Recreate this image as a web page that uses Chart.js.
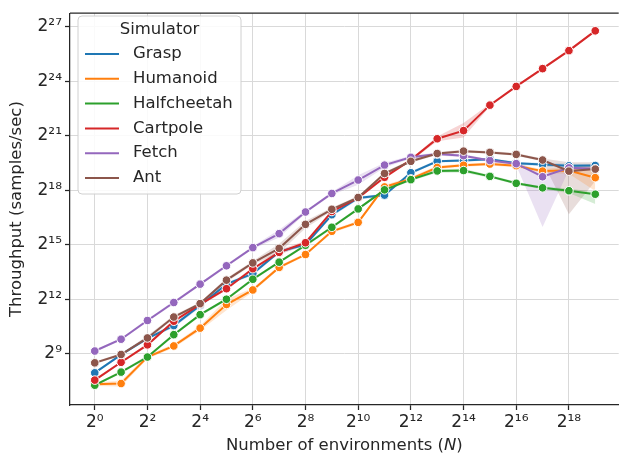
<!DOCTYPE html>
<html>
<head>
<meta charset="utf-8">
<script src="https://cdn.jsdelivr.net/npm/chart.js@4.4.0/dist/chart.umd.min.js"></script>
<style>
  html, body { margin: 0; padding: 0; background: #fff; }
  #wrap { width: 624px; height: 457px; }
</style>
</head>
<body>
<div id="wrap"><canvas id="myChart" width="624" height="457"></canvas></div>
<script>
// x = log2(number of environments), y = log2(throughput)
const envPow = [0, 1, 2, 3, 4, 5, 6, 7, 8, 9, 10, 11, 12, 13, 14, 15, 16, 17, 18, 19];
const xTicks = [0, 2, 4, 6, 8, 10, 12, 14, 16, 18];
const yTicks = [9, 12, 15, 18, 21, 24, 27];

const simulators = ["Grasp", "Humanoid", "Halfcheetah", "Cartpole", "Fetch", "Ant"];
const colors = ["#1f77b4", "#ff7f0e", "#2ca02c", "#d62728", "#9467bd", "#8c564b"];

const grasp = [7.95, 8.95, 9.85, 10.55, 11.66, 12.83, 13.41, 14.62, 15.0, 16.65, 17.57, 17.73, 18.96, 19.59, 19.63, 19.70, 19.48, 19.41, 19.34, 19.36];
const humanoid = [7.32, 7.36, 8.82, 9.43, 10.41, 11.71, 12.51, 13.75, 14.46, 15.74, 16.23, 18.18, 18.62, 19.25, 19.37, 19.44, 19.35, 19.05, 19.08, 18.69];
const halfcheetah = [7.27, 7.99, 8.82, 10.05, 11.15, 12.00, 13.10, 14.04, 14.97, 15.96, 16.97, 18.02, 18.58, 19.06, 19.08, 18.76, 18.38, 18.13, 17.97, 17.78];
const cartpole = [7.55, 8.53, 9.49, 10.79, 11.72, 12.58, 13.68, 14.58, 15.11, 16.83, 17.58, 18.71, 19.67, 20.83, 21.28, 22.68, 23.71, 24.69, 25.68, 26.77];
const fetch_ = [9.15, 9.80, 10.83, 11.82, 12.83, 13.84, 14.84, 15.61, 16.80, 17.82, 18.56, 19.38, 19.81, 19.99, 19.90, 19.63, 19.46, 18.74, 19.23, 19.18];
const ant = [8.50, 8.96, 9.87, 11.02, 11.76, 13.05, 14.00, 14.80, 16.12, 16.95, 17.60, 18.92, 19.59, 20.02, 20.15, 20.08, 19.97, 19.66, 19.05, 19.16];

// confidence bands (low / high)
const graspLo = [7.88, 8.88, 9.77, 10.45, 11.55, 12.74, 13.32, 14.52, 14.92, 16.55, 17.48, 17.65, 18.88, 19.52, 19.56, 19.63, 19.40, 19.32, 19.22, 19.28];
const graspHi = [8.02, 9.02, 9.93, 10.65, 11.77, 12.92, 13.50, 14.72, 15.08, 16.75, 17.66, 17.81, 19.04, 19.66, 19.70, 19.77, 19.56, 19.50, 19.46, 19.44];
const humanoidLo = [7.22, 7.20, 8.72, 9.33, 10.28, 11.40, 12.40, 13.66, 14.38, 15.65, 16.14, 18.08, 18.52, 19.16, 19.29, 19.36, 19.26, 18.95, 18.90, 17.95];
const humanoidHi = [7.42, 7.52, 8.92, 9.53, 10.54, 12.00, 12.62, 13.84, 14.54, 15.83, 16.32, 18.28, 18.72, 19.34, 19.45, 19.52, 19.44, 19.15, 19.30, 19.45];
const halfcheetahLo = [7.20, 7.92, 8.74, 9.97, 11.07, 11.92, 13.02, 13.96, 14.89, 15.88, 16.89, 17.94, 18.50, 18.96, 18.98, 18.68, 18.30, 18.05, 17.85, 17.24];
const halfcheetahHi = [7.34, 8.06, 8.90, 10.13, 11.23, 12.08, 13.18, 14.12, 15.05, 16.04, 17.05, 18.10, 18.66, 19.16, 19.18, 18.84, 18.46, 18.21, 18.09, 17.90];
const cartpoleLo = [7.48, 8.46, 9.41, 10.71, 11.64, 12.50, 13.60, 14.45, 15.00, 16.75, 17.50, 18.63, 19.59, 20.70, 20.90, 22.60, 23.64, 24.62, 25.61, 26.70];
const cartpoleHi = [7.62, 8.60, 9.57, 10.87, 11.80, 12.66, 13.76, 14.71, 15.22, 16.91, 17.66, 18.79, 19.75, 20.96, 21.70, 22.76, 23.78, 24.76, 25.75, 26.84];
const fetchLo = [9.08, 9.73, 10.75, 11.74, 12.75, 13.76, 14.76, 15.40, 16.72, 17.74, 18.30, 19.25, 19.73, 19.91, 19.82, 19.55, 19.36, 15.98, 19.12, 19.10];
const fetchHi = [9.22, 9.87, 10.91, 11.90, 12.91, 13.92, 14.92, 15.82, 16.88, 17.90, 18.82, 19.51, 19.89, 20.07, 19.98, 19.71, 19.56, 18.95, 19.34, 19.26];
const antLo = [8.43, 8.89, 9.75, 10.92, 11.68, 12.95, 13.90, 14.55, 15.90, 16.85, 17.52, 18.84, 19.51, 19.94, 20.07, 20.00, 19.89, 19.58, 16.68, 18.50];
const antHi = [8.57, 9.03, 9.99, 11.12, 11.84, 13.15, 14.10, 15.05, 16.30, 17.05, 17.68, 19.00, 19.67, 20.10, 20.23, 20.16, 20.05, 19.74, 19.54, 19.54];

const series = [grasp, humanoid, halfcheetah, cartpole, fetch_, ant];
const lows = [graspLo, humanoidLo, halfcheetahLo, cartpoleLo, fetchLo, antLo];
const highs = [graspHi, humanoidHi, halfcheetahHi, cartpoleHi, fetchHi, antHi];

const FONT = "DejaVu Sans";
const INK = "#262626";
const sup = { "0": "⁰", "1": "¹", "2": "²", "3": "³", "4": "⁴", "5": "⁵", "6": "⁶", "7": "⁷", "8": "⁸", "9": "⁹" };
function pow2Label(v) {
    return "2" + String(v).split("").map(d => sup[d]).join("");
}
function toPoints(arr) {
    return arr.map((y, i) => ({ x: envPow[i], y }));
}
function alpha(hex, a) {
    const n = parseInt(hex.slice(1), 16);
    return `rgba(${(n >> 16) & 255}, ${(n >> 8) & 255}, ${n & 255}, ${a})`;
}

const datasets = [];
simulators.forEach((name, i) => {
    datasets.push({
        label: name + " hi",
        data: toPoints(highs[i]),
        borderWidth: 0,
        pointRadius: 0,
        backgroundColor: alpha(colors[i], 0.2),
        fill: "+1",
        order: 20 + i
    });
    datasets.push({
        label: name + " lo",
        data: toPoints(lows[i]),
        borderWidth: 0,
        pointRadius: 0,
        fill: false,
        order: 20 + i
    });
});
simulators.forEach((name, i) => {
    datasets.push({
        label: name,
        data: toPoints(series[i]),
        borderColor: colors[i],
        backgroundColor: colors[i],
        borderWidth: 2,
        pointRadius: 4.3,
        pointBorderColor: "#ffffff",
        pointBorderWidth: 1,
        pointBackgroundColor: colors[i],
        fill: false,
        order: 10 - i
    });
});

const framePlugin = {
    id: "framePlugin",
    afterDraw(chart) {
        const { ctx, chartArea: a } = chart;
        ctx.save();
        // top spine
        ctx.strokeStyle = INK;
        ctx.lineWidth = 1.25;
        ctx.beginPath();
        ctx.moveTo(a.left, a.top);
        ctx.lineTo(a.right, a.top);
        ctx.stroke();

        // x axis title with italic N
        ctx.fillStyle = INK;
        ctx.textBaseline = "middle";
        const f1 = "16.5px '" + FONT + "'";
        const f2 = "italic 16.5px '" + FONT + "'";
        const p1 = "Number of environments (", p2 = "N", p3 = ")";
        ctx.font = f1;
        const w1 = ctx.measureText(p1).width, w3 = ctx.measureText(p3).width;
        ctx.font = f2;
        const w2 = ctx.measureText(p2).width;
        let x = (a.left + a.right) / 2 - (w1 + w2 + w3) / 2;
        const y = 446;
        ctx.font = f1; ctx.fillText(p1, x, y); x += w1;
        ctx.font = f2; ctx.fillText(p2, x, y); x += w2;
        ctx.font = f1; ctx.fillText(p3, x, y);

        // legend
        const bx = 78, by = 16, bw = 163, bh = 178;
        ctx.beginPath();
        ctx.roundRect(bx, by, bw, bh, 4);
        ctx.fillStyle = "rgba(255,255,255,0.85)";
        ctx.fill();
        ctx.strokeStyle = "#d0d0d0";
        ctx.lineWidth = 1;
        ctx.stroke();
        ctx.fillStyle = INK;
        ctx.font = f1;
        ctx.textAlign = "center";
        ctx.fillText("Simulator", bx + bw / 2, 30);
        ctx.textAlign = "left";
        simulators.forEach((name, i) => {
            const ly = 54 + i * 24.8;
            ctx.strokeStyle = colors[i];
            ctx.lineWidth = 2;
            ctx.beginPath();
            ctx.moveTo(85, ly);
            ctx.lineTo(119, ly);
            ctx.stroke();
            ctx.fillStyle = INK;
            ctx.fillText(name, 133, ly);
        });
        ctx.restore();
    }
};

new Chart(document.getElementById("myChart"), {
    type: "line",
    data: { datasets },
    plugins: [framePlugin],
    options: {
        responsive: false,
        animation: false,
        layout: { padding: { top: 7, right: 0, left: 0, bottom: 0 } },
        plugins: {
            legend: { display: false },
            tooltip: { enabled: false }
        },
        scales: {
            x: {
                type: "linear",
                min: -0.94,
                max: 19.89,
                afterFit: (scale) => { scale.height = 52; },
                afterBuildTicks: (scale) => { scale.ticks = xTicks.map(v => ({ value: v })); },
                ticks: {
                    callback: (v) => pow2Label(v),
                    color: INK,
                    font: { family: FONT, size: 17 },
                    padding: 2,
                    maxRotation: 0,
                    autoSkip: false
                },
                grid: { color: "#d9d9d9", lineWidth: 1, tickColor: INK, tickLength: 5, tickWidth: 1.25 },
                border: { display: true, color: INK, width: 1.25 }
            },
            y: {
                type: "linear",
                min: 6.18,
                max: 27.74,
                afterFit: (scale) => { scale.width = 70; },
                afterBuildTicks: (scale) => { scale.ticks = yTicks.map(v => ({ value: v })); },
                ticks: {
                    callback: (v) => pow2Label(v),
                    color: INK,
                    font: { family: FONT, size: 17 },
                    padding: 3,
                    autoSkip: false
                },
                title: {
                    display: true,
                    text: "Throughput (samples/sec)",
                    color: INK,
                    font: { family: FONT, size: 16.5 },
                    padding: { top: 7, bottom: 0 }
                },
                grid: { color: "#d9d9d9", lineWidth: 1, tickColor: INK, tickLength: 5, tickWidth: 1.25 },
                border: { display: true, color: INK, width: 1.25 }
            }
        }
    }
});
</script>
</body>
</html>
